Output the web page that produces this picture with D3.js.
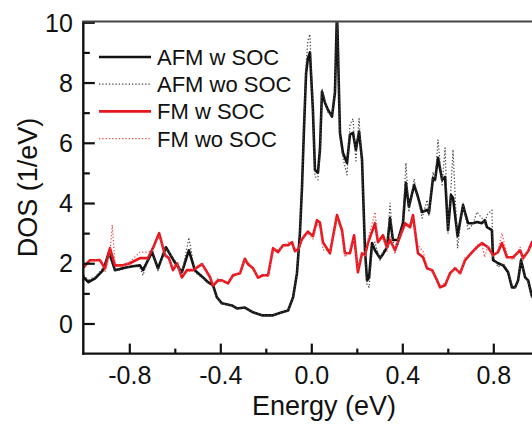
<!DOCTYPE html>
<html><head><meta charset="utf-8">
<script src="https://cdn.jsdelivr.net/npm/d3@7"></script>
<style>
html,body{margin:0;padding:0;background:#fff;overflow:hidden;}
svg{display:block;}
text{font-family:Arial,"Liberation Sans",Helvetica,sans-serif;fill:#111;}
</style></head>
<body>
<svg id="chart" width="532" height="425"></svg>
<script>
// ---- data (energy eV, DOS 1/eV) ----
const afmSoc = [[-1.00,1.53],[-0.98,1.37],[-0.95,1.5],[-0.915,1.77],[-0.889,2.37],[-0.863,1.77],[-0.82,1.85],[-0.785,1.9],[-0.753,1.93],[-0.74,1.77],[-0.70,2.37],[-0.674,1.83],[-0.639,2.53],[-0.60,2.03],[-0.569,1.7],[-0.538,2.43],[-0.512,1.77],[-0.476,1.53],[-0.454,1.37],[-0.432,1.27],[-0.415,0.87],[-0.393,0.67],[-0.349,0.6],[-0.327,0.5],[-0.292,0.53],[-0.256,0.37],[-0.217,0.27],[-0.168,0.27],[-0.129,0.37],[-0.102,0.43],[-0.08,0.87],[-0.063,1.67],[-0.05,3.0],[-0.041,4.5],[-0.032,6.5],[-0.023,8.3],[-0.015,8.8],[-0.006,9.0],[0.007,7.1],[0.016,5.1],[0.029,5.0],[0.038,5.77],[0.047,7.7],[0.06,7.33],[0.073,7.1],[0.091,6.87],[0.104,7.67],[0.113,10.4],[0.126,6.33],[0.139,5.67],[0.157,5.33],[0.17,6.27],[0.183,6.33],[0.196,5.77],[0.21,6.37],[0.223,5.43],[0.236,2.43],[0.245,1.43],[0.254,1.53],[0.267,2.67],[0.28,2.43],[0.302,2.17],[0.315,2.3],[0.333,2.53],[0.346,3.5],[0.359,2.77],[0.381,2.77],[0.403,3.33],[0.416,4.67],[0.429,3.87],[0.452,4.6],[0.469,4.2],[0.487,3.7],[0.509,3.77],[0.517,3.67],[0.535,4.83],[0.544,4.77],[0.557,5.5],[0.575,4.77],[0.588,4.87],[0.601,3.1],[0.614,4.27],[0.623,4.17],[0.643,2.9],[0.667,3.93],[0.676,3.67],[0.689,3.33],[0.71,3.33],[0.728,3.37],[0.75,3.33],[0.763,3.43],[0.772,3.2],[0.794,3.1],[0.799,2.1],[0.821,2.0],[0.843,1.93],[0.865,1.7],[0.882,1.2],[0.896,1.2],[0.909,1.43],[0.922,2.1],[0.94,1.53],[0.953,1.43],[0.97,0.9],[1.0,0.7]];

const afmNoSoc = [[-1.00,1.6],[-0.98,1.45],[-0.95,1.55],[-0.915,1.85],[-0.889,2.25],[-0.863,1.75],[-0.82,1.8],[-0.785,1.95],[-0.753,1.85],[-0.74,1.6],[-0.70,2.5],[-0.674,1.75],[-0.639,2.5],[-0.60,2.1],[-0.569,1.65],[-0.538,2.85],[-0.512,1.7],[-0.476,1.5],[-0.454,1.35],[-0.432,1.22],[-0.415,0.85],[-0.393,0.65],[-0.349,0.6],[-0.327,0.5],[-0.292,0.53],[-0.256,0.37],[-0.217,0.27],[-0.168,0.27],[-0.129,0.37],[-0.102,0.43],[-0.08,0.87],[-0.063,1.67],[-0.05,3.0],[-0.041,4.6],[-0.032,6.7],[-0.023,8.6],[-0.015,9.4],[-0.006,9.6],[0.007,7.0],[0.016,4.9],[0.029,4.77],[0.038,5.6],[0.047,7.8],[0.06,7.4],[0.073,7.0],[0.091,6.9],[0.104,7.7],[0.113,10.4],[0.126,6.2],[0.139,5.5],[0.157,4.93],[0.17,6.6],[0.183,6.8],[0.196,5.4],[0.21,6.8],[0.223,5.2],[0.236,2.2],[0.245,1.3],[0.254,1.2],[0.267,2.5],[0.28,2.7],[0.302,2.1],[0.315,2.4],[0.333,2.5],[0.346,4.0],[0.359,2.7],[0.381,2.6],[0.403,3.5],[0.416,5.33],[0.429,3.7],[0.452,4.8],[0.469,4.1],[0.487,3.5],[0.509,4.1],[0.517,3.6],[0.535,5.03],[0.544,4.7],[0.557,6.1],[0.575,4.6],[0.588,5.83],[0.601,3.0],[0.614,4.5],[0.623,5.77],[0.643,2.5],[0.667,4.0],[0.676,3.6],[0.689,3.1],[0.71,3.3],[0.728,3.7],[0.75,3.5],[0.763,3.3],[0.772,3.6],[0.794,3.77],[0.799,2.2],[0.821,1.87],[0.843,2.0],[0.865,1.75],[0.882,1.25],[0.896,1.2],[0.909,1.4],[0.922,2.2],[0.94,1.5],[0.953,1.4],[0.97,0.85],[1.0,0.7]];

const fmSoc = [[-1.00,1.87],[-0.973,2.1],[-0.929,2.1],[-0.907,1.83],[-0.885,2.5],[-0.863,1.93],[-0.828,1.93],[-0.797,2.0],[-0.753,2.17],[-0.718,2.17],[-0.696,2.5],[-0.669,3.0],[-0.643,2.27],[-0.626,2.17],[-0.608,1.77],[-0.59,2.0],[-0.569,1.53],[-0.547,1.77],[-0.52,1.77],[-0.48,1.97],[-0.458,1.7],[-0.445,1.53],[-0.432,1.25],[-0.41,1.43],[-0.393,1.43],[-0.366,1.33],[-0.344,1.6],[-0.313,1.67],[-0.292,2.15],[-0.278,1.97],[-0.256,1.83],[-0.234,1.52],[-0.212,1.6],[-0.19,1.6],[-0.168,2.5],[-0.146,2.37],[-0.124,2.6],[-0.102,2.6],[-0.085,2.7],[-0.072,2.4],[-0.058,2.45],[-0.041,2.8],[-0.015,3.05],[0.007,2.9],[0.025,3.43],[0.038,3.35],[0.051,2.7],[0.082,2.33],[0.113,3.6],[0.135,3.1],[0.148,2.33],[0.17,2.33],[0.188,2.93],[0.205,1.7],[0.223,2.33],[0.236,2.27],[0.249,2.67],[0.28,3.33],[0.293,2.7],[0.315,2.93],[0.333,2.53],[0.346,2.77],[0.368,2.43],[0.381,2.7],[0.412,3.33],[0.434,3.2],[0.447,3.6],[0.469,2.33],[0.491,2.2],[0.509,1.83],[0.531,1.77],[0.553,1.43],[0.566,1.2],[0.588,1.27],[0.61,1.67],[0.632,1.83],[0.654,1.67],[0.676,2.1],[0.707,2.37],[0.728,2.53],[0.75,2.67],[0.777,2.53],[0.799,2.27],[0.821,2.37],[0.838,2.67],[0.86,2.2],[0.887,2.2],[0.918,2.43],[0.931,2.17],[0.953,2.4],[0.97,2.7],[0.996,2.9]];

const fmNoSoc = [[-1.00,1.9],[-0.973,2.05],[-0.929,2.15],[-0.907,1.7],[-0.885,2.3],[-0.875,3.27],[-0.863,2.0],[-0.828,1.9],[-0.797,2.05],[-0.753,2.37],[-0.718,2.37],[-0.696,2.45],[-0.669,2.9],[-0.643,2.35],[-0.626,2.1],[-0.608,1.85],[-0.59,1.95],[-0.569,1.6],[-0.547,1.7],[-0.52,1.8],[-0.48,2.0],[-0.458,1.65],[-0.445,1.6],[-0.432,1.3],[-0.41,1.5],[-0.393,1.4],[-0.366,1.4],[-0.344,1.55],[-0.313,1.7],[-0.292,2.1],[-0.278,2.05],[-0.256,1.8],[-0.234,1.55],[-0.212,1.65],[-0.19,1.55],[-0.168,2.45],[-0.146,2.45],[-0.124,2.55],[-0.102,2.7],[-0.085,2.6],[-0.072,2.5],[-0.058,2.4],[-0.041,2.85],[-0.015,3.0],[0.007,2.8],[0.025,3.3],[0.038,3.2],[0.051,2.45],[0.082,2.4],[0.113,3.5],[0.135,3.0],[0.148,2.2],[0.17,2.45],[0.188,2.8],[0.205,1.8],[0.223,2.4],[0.236,2.2],[0.249,2.8],[0.28,3.7],[0.293,2.8],[0.315,2.8],[0.333,2.4],[0.346,2.9],[0.368,2.3],[0.381,2.8],[0.412,3.2],[0.434,3.3],[0.447,3.5],[0.469,2.6],[0.491,2.4],[0.509,1.9],[0.531,1.7],[0.553,1.5],[0.566,1.25],[0.588,1.35],[0.61,1.6],[0.632,1.9],[0.654,1.6],[0.676,2.2],[0.707,2.3],[0.728,2.6],[0.75,2.67],[0.762,2.2],[0.777,2.6],[0.799,2.2],[0.821,2.45],[0.838,3.0],[0.86,2.3],[0.887,2.1],[0.918,2.53],[0.931,2.1],[0.953,2.45],[0.97,2.6],[0.996,2.85]];

const xMajorTicks = [-0.8, -0.4, 0.0, 0.4, 0.8];
const xTickLabels = ["-0.8", "-0.4", "0.0", "0.4", "0.8"];
const xMinorTicks = [-0.6, -0.2, 0.2, 0.6];
const yMajorTicks = [0, 2, 4, 6, 8, 10];
const yMinorTicks = [1, 3, 5, 7, 9];
const seriesNames = ["AFM w SOC", "AFM wo SOC", "FM w SOC", "FM wo SOC"];

// ---- drawing ----
const svg = d3.select("#chart");
const x = d3.scaleLinear().domain([-1, 1]).range([83.8, 538.8]);
const y = d3.scaleLinear().domain([-1, 10]).range([353.6, 22.3]);

const styles = [
  {stroke:"#111", width:2.6, dash:null},
  {stroke:"#444", width:1.2, dash:"1.3 2"},
  {stroke:"#e8151d", width:2.6, dash:null},
  {stroke:"#ee4a4f", width:1.2, dash:"1.3 2"}
];
const allSeries = [afmSoc, afmNoSoc, fmSoc, fmNoSoc];

svg.append("defs").append("clipPath").attr("id","plotclip")
  .append("rect").attr("x",83).attr("y",22.3).attr("width",460).attr("height",331.3);

const line = d3.line().x(d => x(d[0])).y(d => y(d[1])).curve(d3.curveLinear);
const plot = svg.append("g").attr("clip-path","url(#plotclip)");
[0,2,1,3].forEach(i => {
  plot.append("path").datum(allSeries[i])
    .attr("d", line).attr("fill","none")
    .attr("stroke", styles[i].stroke).attr("stroke-width", styles[i].width)
    .attr("stroke-linejoin","round").attr("stroke-linecap", styles[i].dash ? "butt" : "round")
    .attr("stroke-dasharray", styles[i].dash);
});

// axes (ticks inward)
const xAxis = d3.axisBottom(x).tickValues(xMajorTicks).tickSize(-10).tickPadding(13)
  .tickFormat((d,i) => xTickLabels[i]);
const gx = svg.append("g").attr("transform", `translate(0,${y(-1)})`).call(xAxis);
const xMinor = d3.axisBottom(x).tickValues(xMinorTicks).tickSize(-5).tickFormat("");
const gxm = svg.append("g").attr("transform", `translate(0,${y(-1)})`).call(xMinor);

const yAxis = d3.axisLeft(y).tickValues(yMajorTicks).tickSize(-11).tickPadding(11);
const gy = svg.append("g").attr("transform", `translate(${x(-1)},0)`).call(yAxis);
const yMinor = d3.axisLeft(y).tickValues(yMinorTicks).tickSize(-6).tickFormat("");
const gym = svg.append("g").attr("transform", `translate(${x(-1)},0)`).call(yMinor);

[gx,gxm,gy,gym].forEach(g => {
  g.select(".domain").remove();
  g.selectAll(".tick line").attr("stroke","#111").attr("stroke-width",2.2);
  g.selectAll(".tick text").attr("font-size",25).attr("fill","#111")
    .attr("font-family",'Arial,"Liberation Sans",sans-serif');
});
gx.selectAll(".tick text").attr("dy","0.71em");
gy.selectAll(".tick text").attr("dy","0.35em");

// frame lines: left, bottom, top
svg.append("line").attr("x1",x(-1)-0.5).attr("x2",x(-1)-0.5).attr("y1",y(10)-1).attr("y2",y(-1)+1.2)
  .attr("stroke","#111").attr("stroke-width",2.4);
svg.append("line").attr("x1",x(-1)-1.5).attr("x2",532).attr("y1",y(-1)).attr("y2",y(-1))
  .attr("stroke","#111").attr("stroke-width",2.4);
svg.append("line").attr("x1",x(-1)-1.5).attr("x2",532).attr("y1",y(10)-0.8).attr("y2",y(10)-0.8)
  .attr("stroke","#444").attr("stroke-width",2);

// axis titles
svg.append("text").attr("x",324).attr("y",415).attr("text-anchor","middle")
  .attr("font-size",27).text("Energy (eV)");
svg.append("text").attr("transform","translate(37,187.5) rotate(-90)").attr("text-anchor","middle")
  .attr("font-size",27).text("DOS (1/eV)");

// legend
const legend = svg.append("g");
seriesNames.forEach((name,i) => {
  const ly = 57 + i*27.2;
  legend.append("line").attr("x1",99).attr("x2",151).attr("y1",ly).attr("y2",ly)
    .attr("stroke", styles[i].stroke).attr("stroke-width", styles[i].width)
    .attr("stroke-dasharray", styles[i].dash);
  legend.append("text").attr("x",157).attr("y",ly+8).attr("font-size",22).text(name);
});
</script>
</body></html>
